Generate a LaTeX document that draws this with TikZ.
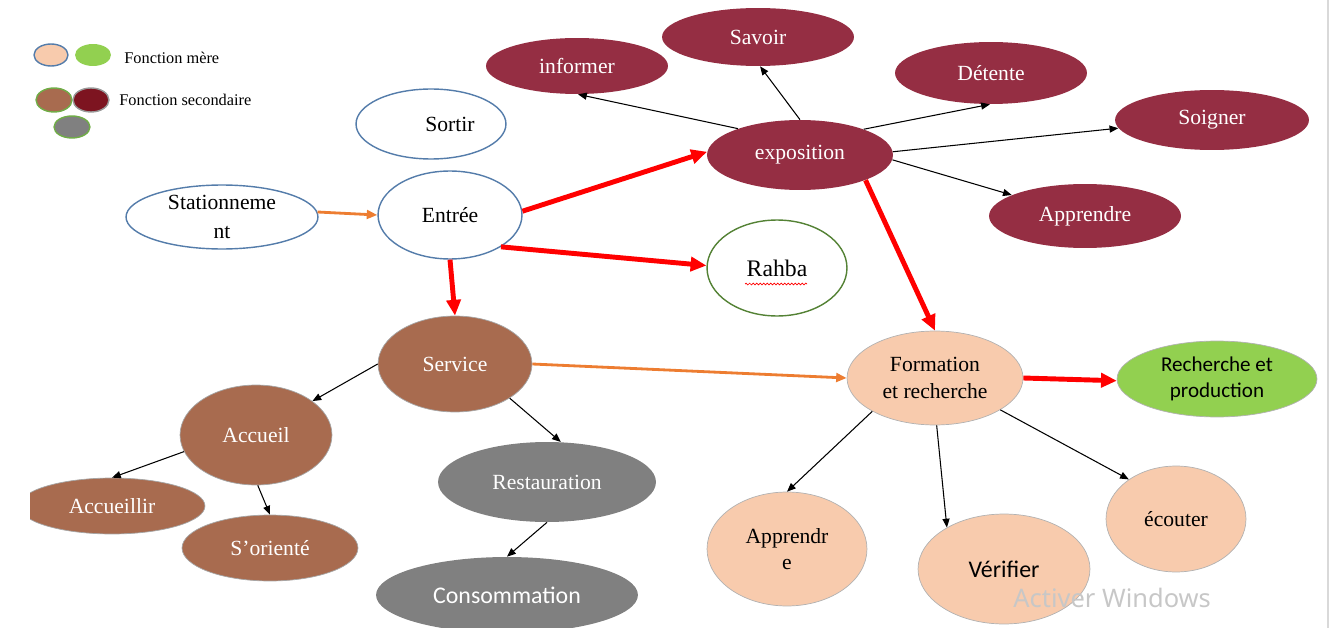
\documentclass[tikz,border=0pt]{standalone}
\usepackage{fontspec}
\setmainfont{Liberation Serif}
\newfontfamily\cali{Carlito}
\newfontfamily\winfont{Noto Sans}
\usetikzlibrary{arrows.meta,shapes.geometric,decorations.pathmorphing}

\definecolor{bordeaux}{RGB}{149,46,67}
\definecolor{maroon}{RGB}{125,20,32}
\definecolor{brique}{RGB}{168,107,79}
\definecolor{gris}{RGB}{128,128,128}
\definecolor{peche}{RGB}{248,203,173}
\definecolor{vert}{RGB}{146,208,80}
\definecolor{bleu}{RGB}{84,124,170}
\definecolor{vertfonce}{RGB}{84,130,53}
\definecolor{vertclair}{RGB}{112,173,71}
\definecolor{orangef}{RGB}{237,125,49}

\newcommand{\tms}{\fontsize{12.3}{15}\selectfont}
\newcommand{\calsz}{\cali\fontsize{13.6}{16}\selectfont}

\begin{document}
\begin{tikzpicture}[x=0.02cm,y=-0.02cm,
    taille/.style 2 args={minimum width=#1*0.04cm,minimum height=#2*0.04cm},
    fct/.style={ellipse,inner sep=0pt,align=center,font=\tms},
    vide/.style={fct,draw=bleu,fill=white,line width=0.8pt},
    mere/.style={fct,draw=gray!60,fill=peche},
    prod/.style={fct,draw=gray!60,fill=vert},
    expo/.style={fct,fill=bordeaux,text=white},
    serv/.style={fct,draw=gray!70,fill=brique,text=white},
    resto/.style={fct,fill=gris,text=white},
    fort/.style={-{Triangle[length=9pt,width=8pt]},red,line width=2.8pt},
    lien/.style={-{Triangle[length=6pt,width=5pt]},orangef,line width=1.6pt},
    fin/.style={-{Triangle[length=5pt,width=4pt]},black,line width=0.6pt},
    legende/.style={ellipse,inner sep=0pt,line width=0.8pt}]
\useasboundingbox (0,0) rectangle (1334,628);

% legende
\node[legende,taille={17}{11},fill=peche,draw=bleu] (lpeche) at (51,55) {};
\node[legende,taille={18}{11},fill=vert] (lvert) at (93,55) {};
\node[legende,taille={18}{12},fill=brique,draw=vertclair] (lbrique) at (54,100) {};
\node[legende,taille={18}{12},fill=maroon,draw=gray!80] (lmaroon) at (91,100) {};
\node[legende,taille={18}{11},fill=gris,draw=vertclair] (lgris) at (72,127) {};
\node[anchor=west,inner sep=0pt,font=\fontsize{9.3}{11}\selectfont] (tmere) at (124,58) {Fonction mère};
\node[anchor=west,inner sep=0pt,font=\fontsize{9.3}{11}\selectfont] (tsec) at (119,100) {Fonction secondaire};

% fonctions
\node[vide,taille={75}{35}] (sortir) at (431,124) {\hspace*{0.76cm}Sortir};
\node[vide,taille={96}{32},font=\fontsize{12.3}{16.5}\selectfont] (station) at (222,217) {Stationneme\\nt};
\node[vide,taille={72}{44}] (entree) at (450,215) {Entrée};
\node[vide,taille={70}{48},draw=vertfonce,font=\fontsize{13.5}{16}\selectfont] (rahba) at (777,268) {Rahba};
\node[expo,taille={93}{35}] (exposition) at (800,155) {exposition};
\node[expo,taille={91}{28}] (informer) at (577,66) {informer};
\node[expo,taille={96}{29}] (savoir) at (758,37) {Savoir};
\node[expo,taille={96}{31}] (detente) at (991,73) {Détente};
\node[expo,taille={97}{30}] (soigner) at (1212,120) {Soigner};
\node[expo,taille={96}{32}] (apprendreA) at (1085,216) {Apprendre};
\node[serv,taille={77}{48}] (service) at (455,364) {Service};
\node[serv,taille={76}{50}] (accueil) at (256,435) {Accueil};
\begin{scope}
\clip (30,0) rectangle (1334,628);
\node[serv,taille={93}{28}] (accueillir) at (112,506) {Accueillir};
\end{scope}
\node[serv,taille={88}{33}] (sorienter) at (270,548) {S’orienté};
\node[resto,taille={109}{40}] (restauration) at (547,482) {Restauration};
\node[resto,taille={131}{38},font=\calsz] (consommation) at (507,595) {Consommation};
\node[mere,taille={88}{47}] (formation) at (935,378) {Formation\\et recherche};
\node[prod,taille={100}{38},font=\cali\fontsize{12}{14.8}\selectfont] (recherche) at (1217,379) {Recherche et\\production};
\node[mere,taille={80}{57},font=\fontsize{12.3}{14.7}\selectfont] (apprendreB) at (787,549) {Apprendr\\e};
\node[mere,taille={86}{55},font=\calsz] (verifier) at (1004,569) {Vérifier};
\node[mere,taille={70}{53}] (ecouter) at (1176,519) {écouter};

% souligne rouge sous Rahba
\coordinate (sa) at (745,284);
\coordinate (sb) at (807,284);
\draw[red,line width=0.4pt,decorate,decoration={snake,amplitude=0.5pt,segment length=2pt}] (sa) -- (sb);

% liens
\path[fort]
    (entree.3) edge (exposition.178)
    (entree.-32) edge (rahba.178)
    (entree.south) edge (service.north)
    (exposition.-21) edge (formation.north)
    (formation.east) edge (recherche.181);
\path[lien]
    (station.3) edge (entree.west)
    (service.east) edge (formation.west);
\path[fin]
    (exposition.157) edge (informer.-88)
    (exposition.90) edge (savoir.-86)
    (exposition.22) edge (detente.-92)
    (exposition.2) edge (soigner.185)
    (exposition.-3) edge (apprendreA.164)
    (service.west) edge (accueil.31)
    (service.-32) edge (restauration.71)
    (accueil.193) edge (accueillir.north)
    (accueil.-88) edge (sorienter.north)
    (restauration.south) edge (consommation.north)
    (formation.208) edge (apprendreB.north)
    (formation.-88) edge (verifier.144)
    (formation.-26) edge (ecouter.140);

% filigrane
\node[anchor=west,inner sep=0pt,text=black!22,font=\winfont\fontsize{14.5}{17}\selectfont] (activer) at (1013,598) {Activer Windows};
\coordinate (bordh) at (1328,0);
\coordinate (bordb) at (1328,628);
\draw[black!15,line width=0.6pt] (bordh) -- (bordb);
\end{tikzpicture}
\end{document}
